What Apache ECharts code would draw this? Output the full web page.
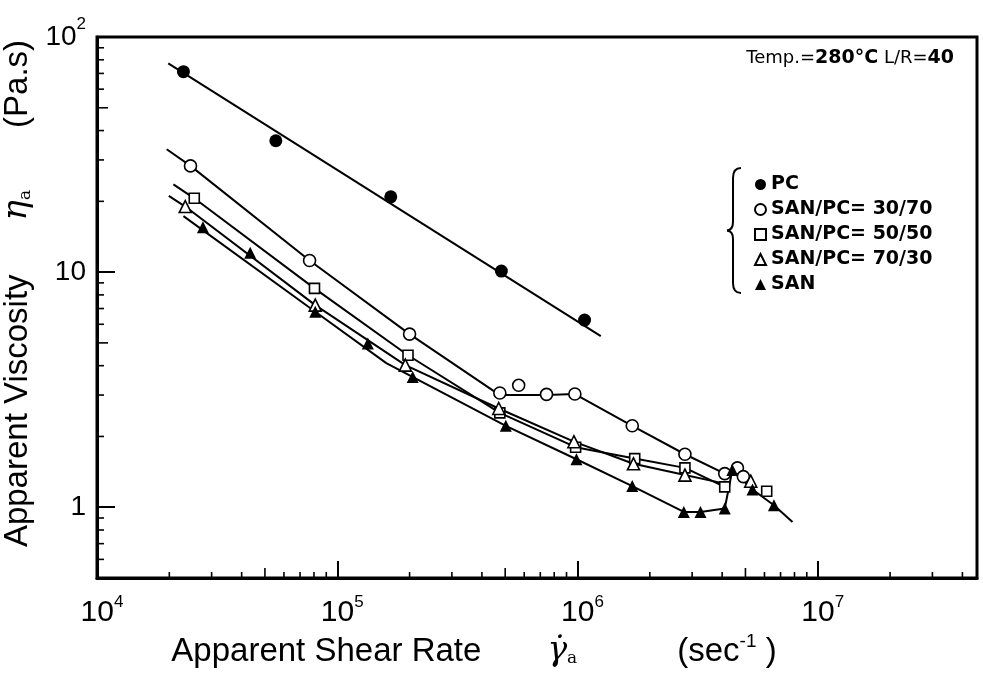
<!DOCTYPE html>
<html>
<head>
<meta charset="utf-8">
<script src="https://cdn.jsdelivr.net/npm/echarts@6/dist/echarts.min.js"></script>
<style>
html,body{margin:0;padding:0;background:#fff;}
#main{width:983px;height:679px;}
</style>
</head>
<body>
<div id="main"></div>
<script>
// axis range
var rateMin = 1e4, rateMax = 4.6e7;
var viscMin = 0.5, viscMax = 100;

// minor tick values
var rateMinorTicks = [2e4,3e4,4e4,5e4,6e4,7e4,8e4,9e4, 2e5,3e5,4e5,5e5,6e5,7e5,8e5,9e5, 2e6,3e6,4e6,5e6,6e6,7e6,8e6,9e6, 2e7,3e7,4e7];
var viscMinorTicks = [0.6,0.7,0.8,0.9, 2,3,4,5,6,7,8,9, 20,30,40,50,60,70,80,90];

// PC
var pcRate = [2.29e4, 5.55e4, 1.67e5, 4.82e5, 1.07e6];
var pcVisc = [71.2, 36.2, 20.9, 10.1, 6.25];
var pcLineRate = [1.98e4, 1.25e6];
var pcLineVisc = [77.3, 5.34];

// SAN/PC = 30/70
var s37Rate = [2.45e4, 7.67e4, 2.0e5, 4.75e5, 5.69e5, 7.43e5, 9.75e5, 1.69e6, 2.80e6, 4.10e6, 4.63e6, 4.90e6];
var s37Visc = [28.3, 11.2, 5.45, 3.06, 3.30, 3.02, 3.03, 2.22, 1.68, 1.39, 1.47, 1.35];
var s37LineRate = [1.95e4, 2.45e4, 7.67e4, 2.0e5, 4.75e5, 7.43e5, 9.75e5, 1.69e6, 2.80e6, 4.10e6, 4.63e6];
var s37LineVisc = [33.3, 28.3, 11.2, 5.45, 3.0, 3.0, 3.03, 2.22, 1.68, 1.39, 1.47];

// SAN/PC = 50/50
var s55Rate = [2.54e4, 8.04e4, 1.97e5, 4.75e5, 9.82e5, 1.73e6, 2.80e6, 4.10e6, 6.13e6];
var s55Visc = [20.6, 8.53, 4.43, 2.52, 1.80, 1.61, 1.47, 1.22, 1.17];
var s55LineRate = [2.08e4, 2.54e4, 8.04e4, 1.97e5, 4.75e5, 9.82e5, 1.73e6, 2.80e6, 4.10e6];
var s55LineVisc = [23.6, 20.6, 8.53, 4.43, 2.52, 1.80, 1.61, 1.47, 1.22];

// SAN/PC = 70/30
var s73Rate = [2.33e4, 8.1e4, 1.92e5, 4.7e5, 9.66e5, 1.71e6, 2.80e6, 5.26e6];
var s73Visc = [19.0, 7.24, 4.02, 2.63, 1.90, 1.53, 1.37, 1.29];
var s73LineRate = [1.99e4, 2.33e4, 8.1e4, 1.92e5, 4.7e5, 9.66e5, 1.71e6, 2.80e6, 4.10e6];
var s73LineVisc = [21.1, 19.0, 7.24, 4.02, 2.63, 1.90, 1.53, 1.37, 1.26];

// SAN
var sanRate = [2.76e4, 4.34e4, 8.1e4, 1.34e5, 2.06e5, 5.03e5, 9.9e5, 1.69e6, 2.77e6, 3.25e6, 4.10e6, 4.41e6, 5.35e6, 6.57e6];
var sanVisc = [15.5, 12.1, 6.78, 4.97, 3.58, 2.22, 1.60, 1.23, 0.955, 0.955, 0.987, 1.44, 1.19, 1.02];
var sanLineRate = [2.29e4, 8.1e4, 1.6e5, 5.03e5, 9.9e5, 1.69e6, 2.77e6, 3.25e6, 4.10e6, 4.41e6, 5.35e6, 6.57e6, 7.85e6];
var sanLineVisc = [17.3, 6.78, 4.1, 2.22, 1.60, 1.23, 0.955, 0.955, 0.987, 1.44, 1.19, 1.02, 0.865];

var legendNames = ['PC', 'SAN/PC= 30/70', 'SAN/PC= 50/50', 'SAN/PC= 70/30', 'SAN'];

function pairs(xs, ys){
    var out = [];
    for (var i = 0; i < xs.length; i++) out.push([xs[i], ys[i]]);
    return out;
}

function isPow10(v){
    var e = Math.round(Math.log(v) / Math.LN10);
    return Math.abs(v - Math.pow(10, e)) < 1e-6 * v ? e : null;
}

var FONT = 'Liberation Sans';
var chart = echarts.init(document.getElementById('main'));

function fitLine(name, xs, ys){
    return {
        name: name,
        type: 'line',
        data: pairs(xs, ys),
        symbol: 'none',
        silent: true,
        z: 2,
        lineStyle: {color: '#000', width: 2}
    };
}

function markers(name, xs, ys, symbol, size, filled){
    return {
        name: name,
        type: 'scatter',
        data: pairs(xs, ys),
        symbol: symbol,
        symbolSize: size,
        z: 5,
        itemStyle: {
            color: filled ? '#000' : '#fff',
            borderColor: '#000',
            borderWidth: filled ? 0 : 1.6,
            opacity: 1
        }
    };
}

// curly brace in front of the legend
var braceStyle = {stroke: '#000', lineWidth: 2, fill: null};
var brace = [
    {type: 'bezierCurve', shape: {x1: 741, y1: 168, cpx1: 733, cpy1: 168, x2: 733, y2: 178}, style: braceStyle},
    {type: 'line', shape: {x1: 733, y1: 178, x2: 733, y2: 222}, style: braceStyle},
    {type: 'bezierCurve', shape: {x1: 733, y1: 222, cpx1: 733, cpy1: 230, x2: 727, y2: 230.5}, style: braceStyle},
    {type: 'bezierCurve', shape: {x1: 727, y1: 230.5, cpx1: 733, cpy1: 231, x2: 733, y2: 239}, style: braceStyle},
    {type: 'line', shape: {x1: 733, y1: 239, x2: 733, y2: 283}, style: braceStyle},
    {type: 'bezierCurve', shape: {x1: 733, y1: 283, cpx1: 733, cpy1: 293, x2: 741, y2: 293}, style: braceStyle}
];

var option = {
    animation: false,
    backgroundColor: '#fff',
    grid: {
        left: 97, right: 6, top: 37, bottom: 101,
        containLabel: false,
        outerBoundsMode: 'none',
        show: true, borderColor: '#000', borderWidth: 3
    },
    title: {
        text: '{n|Temp.=}{b|280°C}{n| L/R=}{b|40}',
        right: 24,
        top: 44,
        textStyle: {
            fontWeight: 'normal',
            rich: {
                n: {fontFamily: 'DejaVu Sans', fontSize: 18, fontWeight: 'normal', color: '#000'},
                b: {fontFamily: 'DejaVu Sans', fontSize: 19, fontWeight: 'bold', color: '#000'}
            }
        }
    },
    legend: {
        data: legendNames,
        orient: 'vertical',
        left: 749,
        top: 170,
        itemWidth: 11,
        itemHeight: 11,
        itemGap: 6,
        textStyle: {fontFamily: 'DejaVu Sans', fontSize: 19, fontWeight: 'bold', color: '#000', lineHeight: 18},
        selectedMode: false
    },
    graphic: brace,
    xAxis: {
        type: 'log',
        logBase: 10,
        min: rateMin,
        max: rateMax,
        splitLine: {show: false},
        axisLine: {lineStyle: {color: '#000', width: 3}},
        axisTick: {inside: true, length: 17, lineStyle: {color: '#000', width: 2}},
        axisLabel: {
            margin: 16,
            color: '#000',
            formatter: function(v){
                var e = isPow10(v);
                if (e === null) return '';
                return '{n|10}{s|' + e + '}';
            },
            rich: {
                n: {fontFamily: FONT, fontSize: 30, color: '#000', padding: [0, 0, 0, 10]},
                s: {fontFamily: FONT, fontSize: 17, color: '#000', padding: [0, 0, 20, 0]}
            }
        },
        name: '{t|Apparent Shear Rate}{g| }{gam|γ̇}{sub|a}{g2| }{t|(sec}{sup|-1}{t| )}',
        nameLocation: 'middle',
        nameGap: 52,
        nameTextStyle: {
            padding: [0, 126, 0, 0],
            rich: {
                t: {fontFamily: FONT, fontSize: 33, color: '#000'},
                g: {width: 66},
                g2: {width: 100},
                gam: {fontFamily: 'DejaVu Serif', fontStyle: 'italic', fontSize: 33, color: '#000'},
                sub: {fontFamily: 'DejaVu Serif', fontSize: 17, color: '#000', padding: [14, 0, 0, 0]},
                sup: {fontFamily: FONT, fontSize: 19, color: '#000', padding: [0, 0, 20, 0]}
            }
        }
    },
    yAxis: {
        type: 'log',
        logBase: 10,
        min: viscMin,
        max: viscMax,
        splitLine: {show: false},
        axisLine: {lineStyle: {color: '#000', width: 3}},
        axisTick: {inside: true, length: 18, lineStyle: {color: '#000', width: 2}},
        axisLabel: {
            margin: 11,
            color: '#000',
            formatter: function(v){
                var e = isPow10(v);
                if (e === null) return '';
                if (e === 0) return '{n|1}';
                if (e === 1) return '{n|10}';
                return '{n|10}{s|' + e + '}';
            },
            rich: {
                n: {fontFamily: FONT, fontSize: 28, color: '#000'},
                s: {fontFamily: FONT, fontSize: 17, color: '#000', padding: [0, 0, 26, 0]}
            }
        },
        name: '{t|Apparent Viscosity}{g| }{eta|η}{sub|a}{g2| }{t|(Pa.s)}',
        nameLocation: 'middle',
        nameRotate: 90,
        nameGap: 53,
        nameTextStyle: {
            padding: [0, 0, 0, 28],
            rich: {
                t: {fontFamily: FONT, fontSize: 33, color: '#000'},
                g: {width: 54},
                g2: {width: 62},
                eta: {fontFamily: 'DejaVu Serif', fontStyle: 'italic', fontSize: 34, color: '#000'},
                sub: {fontFamily: 'DejaVu Serif', fontSize: 17, color: '#000', padding: [16, 0, 0, 0]}
            }
        }
    },
    series: [
        fitLine('PC line', pcLineRate, pcLineVisc),
        fitLine('30/70 line', s37LineRate, s37LineVisc),
        fitLine('50/50 line', s55LineRate, s55LineVisc),
        fitLine('70/30 line', s73LineRate, s73LineVisc),
        fitLine('SAN line', sanLineRate, sanLineVisc),
        markers(legendNames[0], pcRate, pcVisc, 'circle', 13, true),
        markers(legendNames[1], s37Rate, s37Visc, 'circle', 12, false),
        markers(legendNames[2], s55Rate, s55Visc, 'rect', 10, false),
        markers(legendNames[3], s73Rate, s73Visc, 'triangle', 12, false),
        markers(legendNames[4], sanRate, sanVisc, 'triangle', 12, true),
        {
            // minor ticks on the rate axis
            type: 'custom',
            silent: true,
            z: 3,
            data: rateMinorTicks.map(function(v){ return [v, viscMin]; }),
            renderItem: function(params, api){
                var v = api.value(0);
                var p = api.coord([v, api.value(1)]);
                var m = v / Math.pow(10, Math.floor(Math.log(v) / Math.LN10 + 1e-9));
                var len = Math.abs(m - 5) < 1e-6 ? 10 : 6;
                return {type: 'line', shape: {x1: p[0], y1: p[1], x2: p[0], y2: p[1] - len},
                        style: {stroke: '#000', lineWidth: 1.6}};
            }
        },
        {
            // minor ticks on the viscosity axis
            type: 'custom',
            silent: true,
            z: 3,
            data: viscMinorTicks.map(function(v){ return [rateMin, v]; }),
            renderItem: function(params, api){
                var v = api.value(1);
                var p = api.coord([api.value(0), v]);
                var m = v / Math.pow(10, Math.floor(Math.log(v) / Math.LN10 + 1e-9));
                var len = Math.abs(m - 5) < 1e-6 ? 11 : 7;
                return {type: 'line', shape: {x1: p[0], y1: p[1], x2: p[0] + len, y2: p[1]},
                        style: {stroke: '#000', lineWidth: 1.6}};
            }
        }
    ]
};

chart.setOption(option);
</script>
</body>
</html>
